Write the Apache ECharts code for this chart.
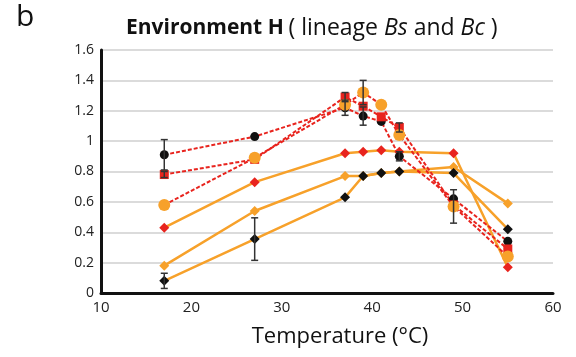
<!DOCTYPE html>
<html>
<head>
<meta charset="utf-8">
<script src="https://cdn.jsdelivr.net/npm/echarts@6/dist/echarts.min.js"></script>
<style>
  html, body { margin: 0; padding: 0; background: #fff; }
  #main { width: 576px; height: 357px; }
</style>
</head>
<body>
<div id="main"></div>
<script>
// temperatures (x) shared by every series
const temps = [17, 27, 37, 39, 41, 43, 49, 55]

// solid orange lines
const redDiamond = [0.43, 0.73, 0.92, 0.93, 0.94, 0.93, 0.92, 0.17]
const orangeDiamond = [0.18, 0.54, 0.77, 0.77, 0.79, 0.80, 0.83, 0.59]
const blackDiamond = [0.08, 0.355, 0.63, 0.77, 0.79, 0.80, 0.79, 0.42]
// dashed red lines
const blackCircle = [0.91, 1.03, 1.22, 1.165, 1.13, 0.90, 0.62, 0.34]
const redSquare = [0.78, 0.88, 1.29, 1.23, 1.16, 1.09, 0.58, 0.29]
const orangeCircle = [0.58, 0.89, 1.24, 1.32, 1.24, 1.04, 0.57, 0.24]

// error bar half widths (0 = none drawn)
const errBlackDiamond = [0.05, 0.14, 0, 0, 0, 0, 0, 0]
const errBlackCircle = [0.10, 0, 0.05, 0.06, 0, 0.03, 0, 0]
const errRedSquare = [0.02, 0, 0.03, 0, 0, 0.03, 0, 0]
const errOrangeCircle = [0, 0, 0, 0.08, 0, 0, 0.11, 0]

const RED = '#e8241e'
const ORANGE = '#f7a12a'
const BLACK = '#111'

function pairs(vals) {
  return temps.map((t, i) => [t, vals[i]])
}

function errRows(vals, errs) {
  const rows = []
  temps.forEach((t, i) => {
    if (errs[i] > 0) rows.push([t, vals[i] - errs[i], vals[i] + errs[i]])
  })
  return rows
}

const errData = [].concat(
  errRows(blackDiamond, errBlackDiamond),
  errRows(blackCircle, errBlackCircle),
  errRows(redSquare, errRedSquare),
  errRows(orangeCircle, errOrangeCircle)
)

function solid(name, vals, symColor) {
  return {
    name: name,
    type: 'line',
    data: pairs(vals),
    symbol: 'diamond',
    symbolSize: 10,
    lineStyle: { color: ORANGE, width: 2.5 },
    itemStyle: { color: symColor },
    z: 3
  }
}

function dashed(name, vals, symbol, size, symColor) {
  return {
    name: name,
    type: 'line',
    data: pairs(vals),
    symbol: symbol,
    symbolSize: size,
    lineStyle: { color: RED, width: 2, type: [4, 2] },
    itemStyle: { color: symColor },
    z: 4
  }
}

var myChart = echarts.init(document.getElementById('main'))
myChart.setOption({
  animation: false,
  textStyle: { fontFamily: 'Open Sans' },
  title: {
    text: '{b|Environment H} {n|( lineage }{i|Bs}{n| and }{i|Bc}{n| )}',
    left: 121,
    top: 12,
    textStyle: {
      rich: {
        b: { fontSize: 21, fontWeight: 'bold', color: '#111', fontFamily: 'Open Sans' },
        n: { fontSize: 23, fontWeight: 'normal', color: '#111', fontFamily: 'Open Sans' },
        i: { fontSize: 23, fontWeight: 'normal', fontStyle: 'italic', color: '#111', fontFamily: 'Open Sans' }
      }
    }
  },
  graphic: [
    {
      type: 'text',
      left: 16,
      top: 2,
      style: { text: 'b', fontSize: 30, fill: '#111', fontFamily: 'Open Sans' }
    }
  ],
  grid: { left: 101, right: 23, top: 50, bottom: 64 },
  xAxis: {
    type: 'value',
    min: 10,
    max: 60,
    interval: 10,
    name: 'Temperature (°C)',
    nameLocation: 'middle',
    nameGap: 33,
    nameTextStyle: { fontSize: 22, color: '#111', fontFamily: 'Open Sans', padding: [0, 0, 0, 26] },
    axisLine: { lineStyle: { color: BLACK, width: 3 } },
    axisTick: { show: false },
    axisLabel: { fontSize: 15, color: '#222', margin: 7 },
    splitLine: { show: false }
  },
  yAxis: {
    type: 'value',
    min: 0,
    max: 1.6,
    interval: 0.2,
    axisLine: { show: true, lineStyle: { color: BLACK, width: 3 } },
    axisTick: { show: false },
    axisLabel: { fontSize: 14, color: '#222', margin: 7 },
    splitLine: { lineStyle: { color: '#cfcfcf', width: 1.5 } }
  },
  series: [
    solid('redDiamond', redDiamond, RED),
    solid('orangeDiamond', orangeDiamond, ORANGE),
    solid('blackDiamond', blackDiamond, BLACK),
    dashed('blackCircle', blackCircle, 'circle', 9, BLACK),
    dashed('redSquare', redSquare, 'rect', 9, RED),
    dashed('orangeCircle', orangeCircle, 'circle', 12, ORANGE),
    {
      name: 'errors',
      type: 'custom',
      data: errData,
      z: 5,
      renderItem: function (params, api) {
        const top = api.coord([api.value(0), api.value(2)])
        const bot = api.coord([api.value(0), api.value(1)])
        const st = { stroke: '#333', lineWidth: 1.5 }
        return {
          type: 'group',
          children: [
            { type: 'line', shape: { x1: top[0], y1: top[1], x2: bot[0], y2: bot[1] }, style: st },
            { type: 'line', shape: { x1: top[0] - 3.5, y1: top[1], x2: top[0] + 3.5, y2: top[1] }, style: st },
            { type: 'line', shape: { x1: bot[0] - 3.5, y1: bot[1], x2: bot[0] + 3.5, y2: bot[1] }, style: st }
          ]
        }
      }
    }
  ]
})
</script>
</body>
</html>
